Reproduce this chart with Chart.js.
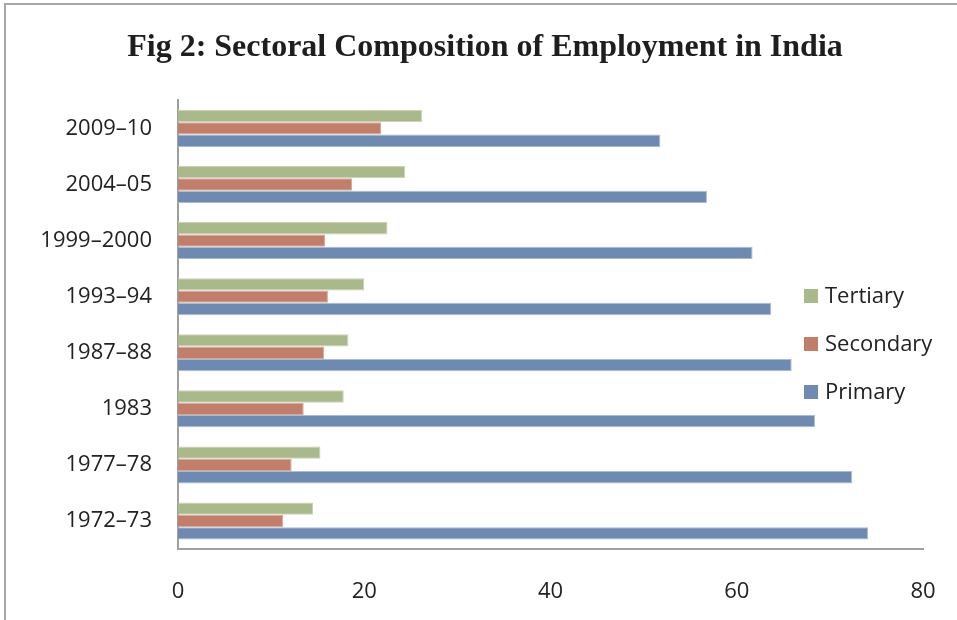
<!DOCTYPE html>
<html>
<head>
<meta charset="utf-8">
<script src="https://cdn.jsdelivr.net/npm/chart.js@4/dist/chart.umd.min.js"></script>
<style>
  html, body { margin: 0; padding: 0; background: #fff; }
  #wrap { position: relative; width: 957px; height: 620px; }
  #frame { position: absolute; left: 4px; top: 3px; right: 0; bottom: 0;
           border-top: 2px solid #a6a6a6; border-left: 2px solid #a6a6a6; pointer-events: none; }
  canvas { position: absolute; left: 0; top: 0; }
</style>
</head>
<body>
<div id="wrap">
  <canvas id="chart" width="957" height="620"></canvas>
  <div id="frame"></div>
</div>
<script>
const years = ["2009–10", "2004–05", "1999–2000", "1993–94", "1987–88", "1983", "1977–78", "1972–73"];
const tertiary  = [26.2, 24.4, 22.5, 20.0, 18.3, 17.8, 15.3, 14.5];
const secondary = [21.8, 18.7, 15.8, 16.1, 15.7, 13.5, 12.2, 11.3];
const primary   = [51.8, 56.8, 61.7, 63.7, 65.9, 68.4, 72.4, 74.1];
const xTicks = [0, 20, 40, 60, 80];

Chart.defaults.font.family = "'Open Sans', sans-serif";
Chart.defaults.color = "#222";

// legend drawn inside the plot area, like the original
const sideLegend = {
  id: "sideLegend",
  afterLayout(chart) {
    // title in the original sits centred on the whole frame, not on padded box
    chart.titleBlock.left = 13;
    chart.titleBlock.right = 957;
  },
  afterDraw(chart) {
    const ctx = chart.ctx;
    ctx.save();
    ctx.font = "22px 'Open Sans', sans-serif";
    ctx.textBaseline = "middle";
    chart.data.datasets.forEach((ds, i) => {
      const y = 296 + i * 48;
      ctx.fillStyle = ds.backgroundColor;
      ctx.fillRect(804, y - 7, 14, 14);
      ctx.fillStyle = "#222";
      ctx.fillText(ds.label, 825, y + 1);
    });
    ctx.restore();
  }
};

new Chart(document.getElementById("chart"), {
  type: "bar",
  data: {
    labels: years,
    datasets: [
      { label: "Tertiary",  data: tertiary,  backgroundColor: "#aab98b", borderColor: "#c9d3b5", borderWidth: 1 },
      { label: "Secondary", data: secondary, backgroundColor: "#c17e6a", borderColor: "#d6a899", borderWidth: 1 },
      { label: "Primary",   data: primary,   backgroundColor: "#6f8ab0", borderColor: "#a9bbd3", borderWidth: 1 }
    ]
  },
  options: {
    indexAxis: "y",
    responsive: false,
    animation: false,
    layout: { padding: { left: 0, right: 34, top: 0, bottom: 0 } },
    datasets: { bar: { categoryPercentage: 0.66, barPercentage: 1.0 } },
    plugins: {
      legend: { display: false },
      tooltip: { enabled: false },
      title: {
        display: true,
        text: "Fig 2: Sectoral Composition of Employment in India",
        font: { family: "'Liberation Serif', 'Times New Roman', serif", size: 32, weight: "bold", lineHeight: 1.2 },
        color: "#1e1e1e",
        padding: { top: 29, bottom: 33 }
      }
    },
    scales: {
      x: {
        min: 0, max: 80,
        afterBuildTicks: axis => { axis.ticks = xTicks.map(v => ({ value: v })); },
        grid: { display: false, drawTicks: false },
        border: { display: true, color: "#a0a0a0", width: 2 },
        ticks: { font: { size: 22 }, padding: 30 },
        afterFit: axis => { axis.height = 71; axis.paddingLeft = 0; axis.paddingRight = 0; }
      },
      y: {
        grid: { display: false, drawTicks: false },
        border: { display: true, color: "#a0a0a0", width: 2 },
        ticks: { font: { size: 22 }, padding: 26 },
        afterFit: axis => { axis.width = 178; axis.paddingTop = 0; axis.paddingBottom = 0; }
      }
    }
  },
  plugins: [sideLegend]
});
</script>
</body>
</html>
